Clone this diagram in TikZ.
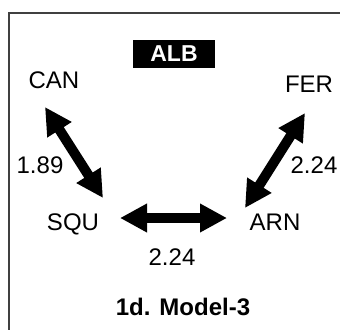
\documentclass[tikz,border=0pt]{standalone}
\usepackage{fontspec}
\setmainfont{Liberation Sans}
\usetikzlibrary{arrows.meta}

\tikzset{
  site/.style={font=\fontsize{24}{28}\selectfont, inner sep=0pt, anchor=base},
  rate/.style={font=\fontsize{24}{28}\selectfont, inner sep=0pt, anchor=base},
  flow/.style={line width=10pt, {Triangle[length=27pt,width=27pt]}-{Triangle[length=27pt,width=27pt]}},
}

\begin{document}
\begin{tikzpicture}[x=1pt,y=-1pt]

\useasboundingbox (0,0) rectangle (340,330);

% frame
\draw [line width=1.2pt, black!75] (340,13) -- (9,13) -- (9,330);

% population in the box
\path (174,54) coordinate(alb) node [fill=black, text=white, minimum width=82pt, minimum height=28pt, inner sep=0pt, font=\fontsize{23}{28}\selectfont\bfseries] (albBox) {ALB};

\path (54,88) coordinate(can) node [site] (canText) {CAN};
\path (309,92) coordinate(fer) node [site] (ferText) {FER};
\path (73,230) coordinate(squ) node [site] (squText) {SQU};
\path (275,230) coordinate(arn) node [site] (arnText) {ARN};

% arrow ends
\path (45,107) coordinate(canTip);
\path (103,198) coordinate(squTip);
\path (305,113) coordinate(ferTip);
\path (245,208) coordinate(arnTip);
\path (120,218) coordinate(squSide);
\path (227,218) coordinate(arnSide);

\draw [flow] (canTip) -- (squTip);
\draw [flow] (ferTip) -- (arnTip);
\draw [flow] (squSide) -- (arnSide);

\path (40,173) node [rate] (rateCan) {1.89};
\path (314,173) node [rate] (rateFer) {2.24};
\path (172,265) node [rate] (rateArn) {2.24};

\path (183,315) node [site, font=\fontsize{24}{28}\selectfont\bfseries] (title) {1d. Model-3};

\end{tikzpicture}
\end{document}
